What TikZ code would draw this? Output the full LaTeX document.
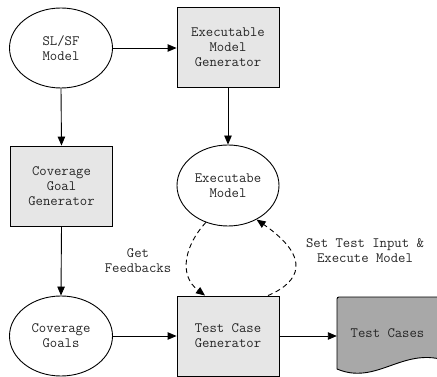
\documentclass[tikz,border=0pt]{standalone}
\usetikzlibrary{shapes.geometric,arrows.meta,calc}
\definecolor{boxfill}{HTML}{E6E6E6}
\definecolor{docfill}{HTML}{A8A8A8}
\tikzset{
  every node/.style={font=\ttfamily\fontsize{14.3}{15}\selectfont, text=black!85, align=center},
  procbox/.style={draw, line width=0.9pt, fill=boxfill, minimum width=102pt, minimum height=80pt, inner sep=0pt},
  dataell/.style={draw, line width=0.9pt, ellipse, minimum width=103pt, minimum height=80pt, inner sep=0pt},
  flow/.style={line width=0.9pt, -{Triangle[length=9pt,width=7.5pt]}},
  feedback/.style={flow, dash pattern=on 5pt off 3.5pt},
}
\begin{document}
\begin{tikzpicture}[x=1pt,y=-1pt]
  \useasboundingbox (0,0) rectangle (437,377);

  % top row
  \node[dataell] (slsf) at (61,48) {SL/SF\\Model};
  \node[procbox] (emg) at (228,47.5) {Executable\\Model\\Generator};

  % middle row
  \node[procbox] (cgg) at (61.5,186) {Coverage\\Goal\\Generator};
  \node[dataell, minimum width=102pt, minimum height=81pt] (em) at (228,185.5) {Executabe\\Model};

  % bottom row
  \node[dataell] (cg) at (61,336) {Coverage\\Goals};
  \node[procbox] (tcg) at (228,336) {Test Case\\Generator};

  % document shape for the generated test cases
  \fill[docfill] (337,297) -- (440,297) -- (440,359)
    .. controls (400,350) and (375,385) .. (337,369) -- cycle;
  \draw[line width=0.9pt] (440,297) -- (339,297) to[out=180,in=90] (337,299) -- (337,369)
    .. controls (375,385) and (400,350) .. (440,359);
  \node[minimum width=101pt, minimum height=72pt, inner sep=0pt] (tc) at (387.5,333) {Test Cases};

  % labels of the feedback loop
  \node (getfb) at (138,261) {Get\\Feedbacks};
  \node (setin) at (365,251) {Set Test Input \&\\Execute Model};

  % solid connectors
  \draw[flow] (slsf.east) -- (emg.west |- slsf.east);
  \draw[flow] (emg.south) -- (em.north);
  \draw[flow] (slsf.south) -- (cgg.north);
  \draw[flow] (cgg.south) -- (cg.north);
  \draw[flow] (cg.east) -- (tcg.west);
  \draw[flow] (tcg.east) -- (tcg.east -| tc.west);

  % dashed feedback loop
  \draw[feedback] (em.-121) .. controls (185,245) and (178,275) .. ([xshift=-23pt]tcg.north);
  \draw[feedback] ([xshift=40pt]tcg.north) .. controls (300,282) and (312,258) .. (em.-50);
\end{tikzpicture}
\end{document}
